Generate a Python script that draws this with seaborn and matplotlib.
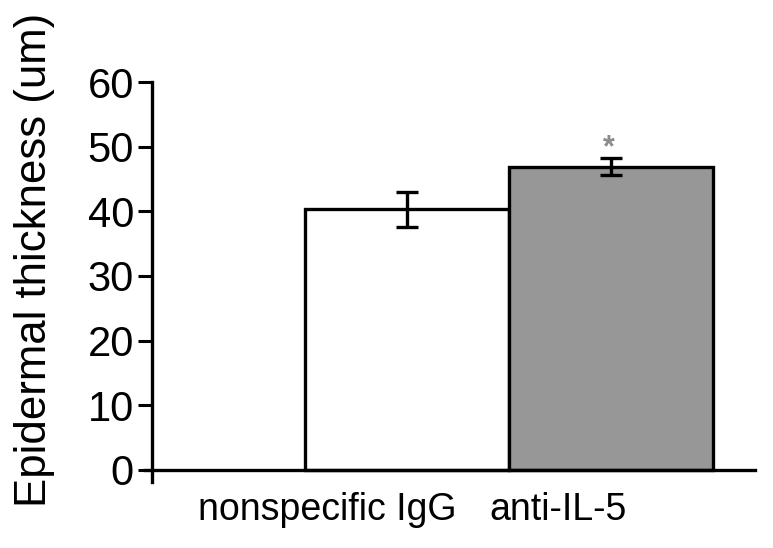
import matplotlib
matplotlib.use("Agg")
import matplotlib.pyplot as plt
import matplotlib.transforms as mtransforms
import seaborn as sns
import pandas as pd

categories = ["nonspecific IgG", "anti-IL-5"]
means = [40.3, 46.9]
errors = [2.7, 1.3]
bar_colors = ["#ffffff", "#979797"]
y_ticks = [0, 10, 20, 30, 40, 50, 60]
y_label = "Epidermal thickness (um)"
sig_marks = ["", "*"]

sns.set_theme(style="white")
plt.rcParams["font.family"] = ["Liberation Sans", "DejaVu Sans"]

df = pd.DataFrame({"group": categories, "value": means})

fig = plt.figure(figsize=(7.73, 5.48), dpi=100)
ax = fig.add_axes([145 / 773, 1 - 482 / 548, 610 / 773, 400 / 548])

sns.barplot(data=df, x="group", y="value", hue="group", palette=bar_colors,
            order=categories, hue_order=categories, width=1.0, legend=False,
            edgecolor="black", linewidth=2.4, errorbar=None, ax=ax)

centers = [p.get_x() + p.get_width() / 2 for p in ax.patches]
ax.errorbar(centers, means, yerr=errors, fmt="none", ecolor="black",
            elinewidth=2.4, capsize=8, capthick=2.4, zorder=5)
for c, m, e, s in zip(centers, means, errors, sig_marks):
    if s:
        ax.text(c - 0.01, m + e + 1.5, s, ha="center", va="center", color="#8c8c8c",
                fontsize=22, fontweight="bold")

px_per_unit = 204.0
x_left = -(406.5 - 145) / px_per_unit
x_spine = -(406.5 - 152) / px_per_unit
x_right = 1 + (755 - 610.5) / px_per_unit
ax.set_xlim(x_left, x_right)
ax.set_ylim(-1.86, 60)

for side in ["top", "right"]:
    ax.spines[side].set_visible(False)
ax.spines["left"].set_position(("data", x_spine))
ax.spines["bottom"].set_position(("data", 0))
for side in ["left", "bottom"]:
    ax.spines[side].set_linewidth(2.4)
    ax.spines[side].set_color("black")

ax.set_yticks(y_ticks)
ax.set_yticklabels([str(t) for t in y_ticks])
ax.tick_params(axis="y", direction="out", length=10, width=2.2, pad=3,
               labelsize=30, colors="black", left=True)
ax.tick_params(axis="x", length=0, pad=16, labelsize=27, colors="black")
ax.set_xlabel("")
ax.set_ylabel("")

offsets = [-79.5, -52.5]
for lab, dx in zip(ax.get_xticklabels(), offsets):
    lab.set_transform(lab.get_transform() +
                      mtransforms.ScaledTranslation(dx / 100, 0, fig.dpi_scale_trans))

fig.text(35 / 773, 1 - 260 / 548, y_label, rotation=90, ha="center", va="center",
         fontsize=31.5, color="black")

fig.savefig("out.png", dpi=100, facecolor="white")
